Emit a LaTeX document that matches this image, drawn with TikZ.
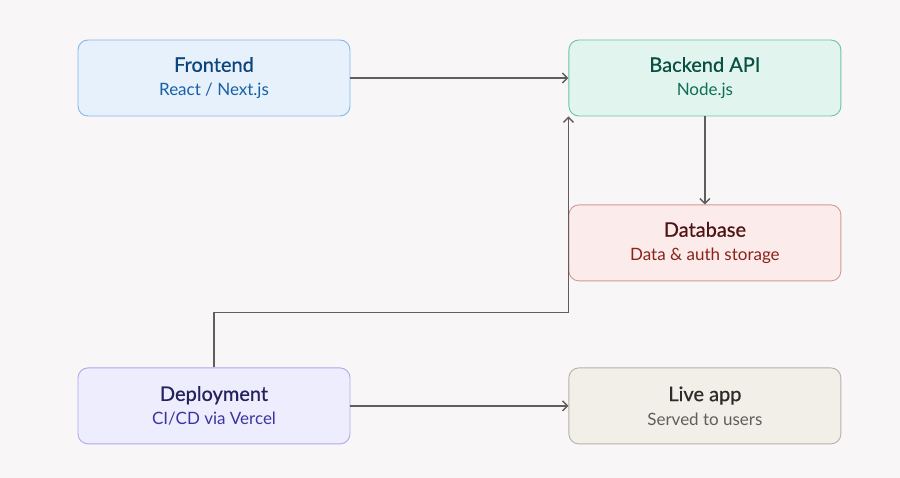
\documentclass[tikz,border=0pt]{standalone}
\usepackage{fontspec}
\setmainfont{Lato}
\newfontfamily\titlefont{Lato}[FakeBold=0.6]
\usepackage{tikz}
\usetikzlibrary{positioning,arrows.meta,calc}
\definecolor{bgcol}{HTML}{F8F6F6}
\definecolor{linecol}{HTML}{5F5E5A}
\definecolor{feFill}{HTML}{E6F1FB}\definecolor{feDraw}{HTML}{85B7EB}
\definecolor{feTitle}{HTML}{0C447C}\definecolor{feSub}{HTML}{185FA5}
\definecolor{beFill}{HTML}{E1F5EE}\definecolor{beDraw}{HTML}{6CC4A6}
\definecolor{beTitle}{HTML}{085041}\definecolor{beSub}{HTML}{0F6E56}
\definecolor{dbFill}{HTML}{FCEBEB}\definecolor{dbDraw}{HTML}{D29A96}
\definecolor{dbTitle}{HTML}{501313}\definecolor{dbSub}{HTML}{8A2318}
\definecolor{dpFill}{HTML}{EEEDFE}\definecolor{dpDraw}{HTML}{AFA9EC}
\definecolor{dpTitle}{HTML}{26215C}\definecolor{dpSub}{HTML}{3C34A0}
\definecolor{laFill}{HTML}{F1EFE8}\definecolor{laDraw}{HTML}{B4B2A9}
\definecolor{laTitle}{HTML}{2C2C2A}\definecolor{laSub}{HTML}{5F5E5A}
\newcommand{\boxtext}[4]{{\fontsize{20}{24}\titlefont\color{#1}#2}\\{\fontsize{17}{24}\selectfont\color{#3}#4}}
\tikzset{
block/.style={
draw,
rounded corners=10pt,
minimum width=272pt,
minimum height=76pt,
align=center,
line width=0.9pt,
inner sep=0pt,
font=\fontsize{17}{24}\selectfont
},
arrow/.style={
-{Straight Barb[length=5pt,width=10pt]},
line width=1.4pt,
draw=linecol
}
}
\begin{document}
\begin{tikzpicture}[x=1pt,y=-1pt,node distance=218pt]
\fill[bgcol](0,0)rectangle(900,478);
\useasboundingbox(0,0)rectangle(900,478);
\node[block,fill=feFill,draw=feDraw](front)at(214,78){\boxtext{feTitle}{Frontend}{feSub}{React / Next.js}};
\node[block,fill=beFill,draw=beDraw,right=of front](back){\boxtext{beTitle}{Backend API}{beSub}{Node.js}};
\node[block,fill=dbFill,draw=dbDraw,below=88pt of back](db){\boxtext{dbTitle}{Database}{dbSub}{Data \& auth storage}};
\node[block,fill=dpFill,draw=dpDraw,below=251pt of front](deploy){\boxtext{dpTitle}{Deployment}{dpSub}{CI/CD via Vercel}};
\node[block,fill=laFill,draw=laDraw,right=of deploy](live){\boxtext{laTitle}{Live app}{laSub}{Served to users}};
\coordinate[above=55pt of deploy.north](bend);

\draw[arrow](front)--(back);
\draw[arrow](back)--(db);
\draw[arrow](deploy)--(live);
\draw[arrow](deploy.north)--(bend)-|(back.south west);
\end{tikzpicture}
\end{document}
